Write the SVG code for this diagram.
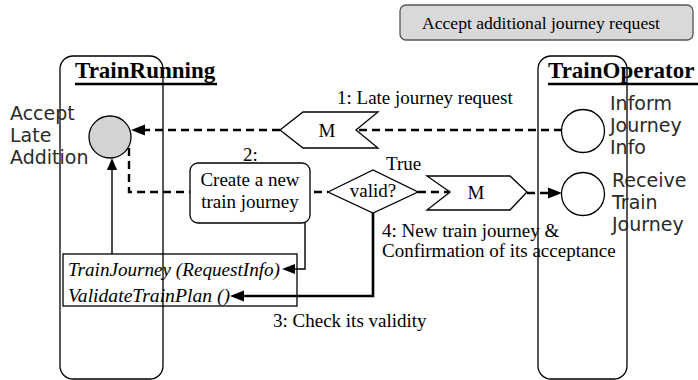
<svg xmlns="http://www.w3.org/2000/svg" width="698" height="380" viewBox="0 0 698 380">
  <style>
    .serif { font-family: "Liberation Serif", "Times New Roman", serif; fill: #000; }
    .sans { font-family: "DejaVu Sans", "Noto Sans", sans-serif; font-size: 19px; fill: #2a2a2a; }
    .title { font-size: 23px; font-weight: bold; }
    .lbl { font-size: 19px; }
    .lane { fill: none; stroke: #000; stroke-width: 1.3; }
    .shape { fill: #fff; stroke: #000; stroke-width: 1.3; }
    .dash { fill: none; stroke: #000; stroke-width: 2.4; stroke-dasharray: 8 5; }
    .solid { fill: none; stroke: #000; stroke-width: 1.4; }
    .thick { fill: none; stroke: #000; stroke-width: 2.6; }
    .head { fill: #000; stroke: none; }
  </style>

  <!-- header activity -->
  <g id="header">
    <rect x="400" y="5" width="293" height="35" rx="6" fill="#d9d9d9" stroke="#555" stroke-width="1.3"/>
    <text class="serif" x="422" y="29" font-size="17.6">Accept additional journey request</text>
  </g>

  <!-- swimlanes -->
  <g id="lane-trainrunning">
    <rect class="lane" x="60" y="56" width="103" height="323" rx="13"/>
    <text class="serif title" x="75" y="78">TrainRunning</text>
    <line x1="75" y1="84" x2="217" y2="84" stroke="#000" stroke-width="2.6"/>
  </g>
  <g id="lane-trainoperator">
    <rect class="lane" x="538" y="56" width="89" height="323" rx="13"/>
    <text class="serif title" x="548" y="78">TrainOperator</text>
    <line x1="548" y1="84" x2="698" y2="84" stroke="#000" stroke-width="2.6"/>
  </g>

  <!-- nodes -->
  <g id="accept-late-addition">
    <circle cx="110" cy="137" r="21" fill="#d3d3d3" stroke="#000" stroke-width="1.3"/>
    <text class="sans" x="10" y="120">Accept</text>
    <text class="sans" x="10" y="142">Late</text>
    <text class="sans" x="10" y="164">Addition</text>
  </g>

  <g id="inform-journey-info">
    <circle class="shape" cx="583" cy="131" r="21.5"/>
    <text class="sans" x="610" y="110">Inform</text>
    <text class="sans" x="610" y="132">Journey</text>
    <text class="sans" x="610" y="154">Info</text>
  </g>

  <g id="receive-train-journey">
    <circle class="shape" cx="583" cy="194" r="21.5"/>
    <text class="sans" x="612" y="187">Receive</text>
    <text class="sans" x="612" y="209">Train</text>
    <text class="sans" x="612" y="231">Journey</text>
  </g>

  <g id="msg-request">
    <polygon class="shape" points="280,130 303,112 378,112 356,130 378,148 303,148"/>
    <text class="serif lbl" x="327" y="137" text-anchor="middle">M</text>
  </g>

  <g id="create-journey">
    <rect class="shape" x="190" y="163" width="120" height="60" rx="8"/>
    <text class="serif lbl" x="250" y="186" text-anchor="middle">Create a new</text>
    <text class="serif lbl" x="250" y="208" text-anchor="middle">train journey</text>
  </g>

  <g id="valid-decision">
    <polygon class="shape" points="328,192 373,170 418,192 373,213"/>
    <text class="serif lbl" x="373" y="197" text-anchor="middle">valid?</text>
  </g>

  <g id="msg-journey">
    <polygon class="shape" points="427,176 510,176 527,192 510,210 427,210 450,192"/>
    <text class="serif lbl" x="476" y="199" text-anchor="middle">M</text>
  </g>

  <g id="operations">
    <rect class="shape" fill="none" x="63" y="254" width="234" height="52" style="fill:none"/>
    <text class="serif" x="68" y="276" font-size="19" font-style="italic" textLength="212" lengthAdjust="spacingAndGlyphs">TrainJourney (RequestInfo)</text>
    <text class="serif" x="68" y="302" font-size="19" font-style="italic" textLength="162" lengthAdjust="spacingAndGlyphs">ValidateTrainPlan ()</text>
  </g>

  <!-- connectors -->
  <g id="connectors">
    <line class="dash" x1="562" y1="130" x2="358" y2="130"/>
    <line class="dash" x1="280" y1="130" x2="144" y2="130"/>
    <polygon class="head" points="131,130 145,124.5 145,135.5"/>

    <path class="dash" d="M129,148 V192 H190"/>
    <line class="dash" x1="314" y1="192" x2="328" y2="192"/>
    <line class="dash" x1="418" y1="192" x2="450" y2="192"/>

    <line class="dash" x1="527" y1="193" x2="550" y2="193"/>
    <polygon class="head" points="562,193 548,187.5 548,198.5"/>

    <path class="solid" d="M305,223 V269 H294"/>
    <polygon class="head" points="282,269 295,264 295,274"/>

    <path class="thick" d="M373,213 V296 H243"/>
    <polygon class="head" points="230,296 244,290.5 244,301.5"/>

    <line class="solid" x1="112" y1="254" x2="112" y2="168"/>
    <polygon class="head" points="112,158 107,170 117,170"/>

    <text class="serif lbl" x="337" y="104">1: Late journey request</text>
    <text class="serif lbl" x="243" y="161">2:</text>
    <text class="serif lbl" x="386" y="170">True</text>
    <text class="serif lbl" x="382" y="237">4: New train journey &amp;</text>
    <text class="serif lbl" x="382" y="257">Confirmation of its acceptance</text>
    <text class="serif lbl" x="273" y="327">3: Check its validity</text>
  </g>
</svg>
